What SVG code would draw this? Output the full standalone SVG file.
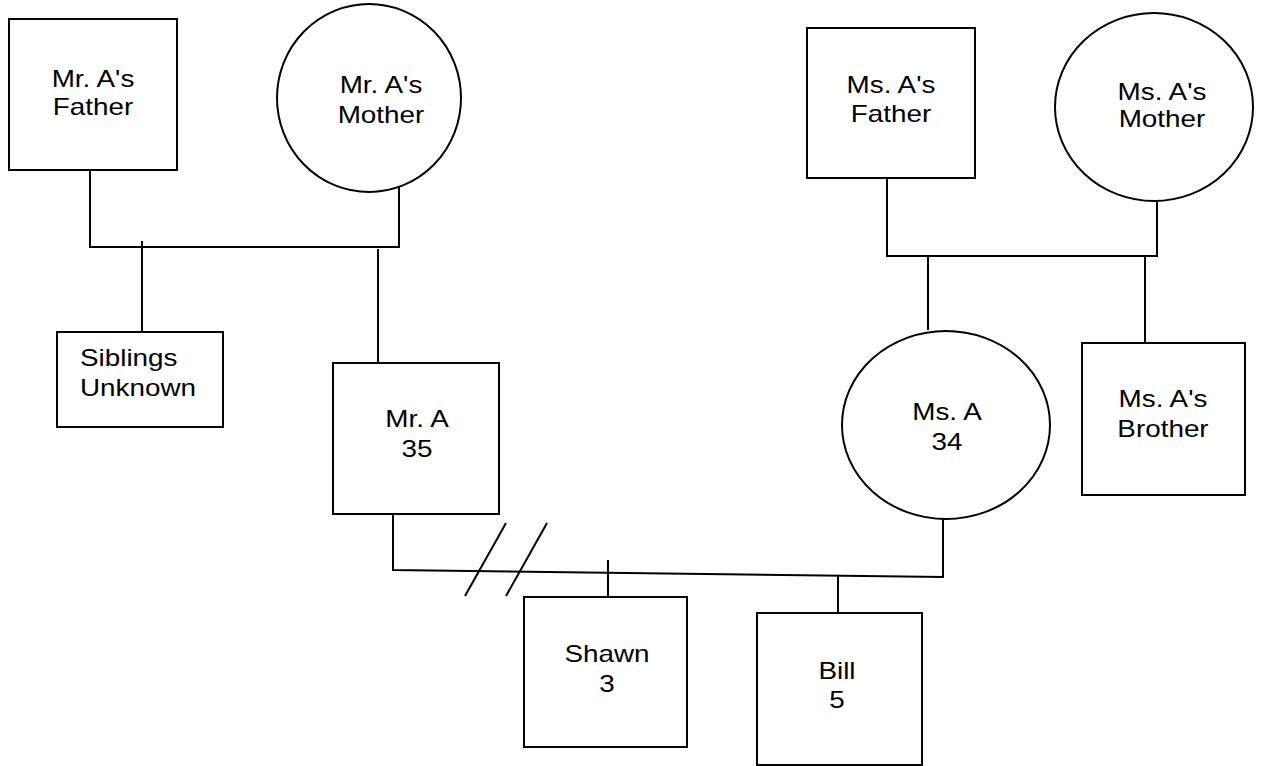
<svg xmlns="http://www.w3.org/2000/svg" width="1270" height="766" viewBox="0 0 1270 766">
<style>
.shape{fill:#fff;stroke:#000;stroke-width:2}
.ln{fill:none;stroke:#000;stroke-width:2}
text{font-family:"Liberation Sans",Arial,sans-serif;font-size:24px;fill:#000}
.c{text-anchor:middle}
</style>
<rect width="1270" height="766" fill="#fff"/>
<g id="connectors">
<polyline class="ln" points="90,170 90,247 399,247 399,186"/>
<line class="ln" x1="142" y1="241" x2="142" y2="332"/>
<line class="ln" x1="378" y1="249" x2="378" y2="363"/>
<polyline class="ln" points="887,178 887,256 1157,256 1157,200"/>
<line class="ln" x1="928" y1="256" x2="928" y2="330"/>
<line class="ln" x1="1145" y1="256" x2="1145" y2="343"/>
<polyline class="ln" points="393,514 393,570 943,577 943,519"/>
<line class="ln" x1="465" y1="596" x2="506" y2="523"/>
<line class="ln" x1="506" y1="596" x2="547" y2="523"/>
<line class="ln" x1="608" y1="560" x2="608" y2="597"/>
<line class="ln" x1="838" y1="576" x2="838" y2="613"/>
</g>
<g id="mr-a-father">
<rect class="shape" x="9" y="19" width="168" height="151"/>
<g transform="translate(93 0) scale(1.16 1)"><text class="c" x="0" y="87">Mr. A's</text><text class="c" x="0" y="115">Father</text></g>
</g>
<g id="mr-a-mother">
<ellipse class="shape" cx="369" cy="98" rx="92" ry="94"/>
<g transform="translate(381 0) scale(1.16 1)"><text class="c" x="0" y="93">Mr. A's</text><text class="c" x="0" y="123">Mother</text></g>
</g>
<g id="ms-a-father">
<rect class="shape" x="807" y="28" width="168" height="150"/>
<g transform="translate(891 0) scale(1.16 1)"><text class="c" x="0" y="93">Ms. A's</text><text class="c" x="0" y="122">Father</text></g>
</g>
<g id="ms-a-mother">
<ellipse class="shape" cx="1154" cy="107" rx="99" ry="94"/>
<g transform="translate(1162 0) scale(1.16 1)"><text class="c" x="0" y="100">Ms. A's</text><text class="c" x="0" y="127">Mother</text></g>
</g>
<g id="siblings">
<rect class="shape" x="57" y="332" width="166" height="95"/>
<g transform="translate(80 0) scale(1.16 1)"><text x="0" y="366">Siblings</text><text x="0" y="396">Unknown</text></g>
</g>
<g id="mr-a">
<rect class="shape" x="333" y="363" width="166" height="151"/>
<g transform="translate(417 0) scale(1.16 1)"><text class="c" x="0" y="427">Mr. A</text><text class="c" x="0" y="457">35</text></g>
</g>
<g id="ms-a">
<ellipse class="shape" cx="946" cy="425" rx="104" ry="94"/>
<g transform="translate(947 0) scale(1.16 1)"><text class="c" x="0" y="420">Ms. A</text><text class="c" x="0" y="450">34</text></g>
</g>
<g id="ms-a-brother">
<rect class="shape" x="1082" y="343" width="163" height="152"/>
<g transform="translate(1163 0) scale(1.16 1)"><text class="c" x="0" y="407">Ms. A's</text><text class="c" x="0" y="437">Brother</text></g>
</g>
<g id="shawn">
<rect class="shape" x="524" y="597" width="163" height="150"/>
<g transform="translate(607 0) scale(1.16 1)"><text class="c" x="0" y="662">Shawn</text><text class="c" x="0" y="692">3</text></g>
</g>
<g id="bill">
<rect class="shape" x="757" y="613" width="165" height="152"/>
<g transform="translate(837 0) scale(1.16 1)"><text class="c" x="0" y="679">Bill</text><text class="c" x="0" y="708">5</text></g>
</g>
</svg>
